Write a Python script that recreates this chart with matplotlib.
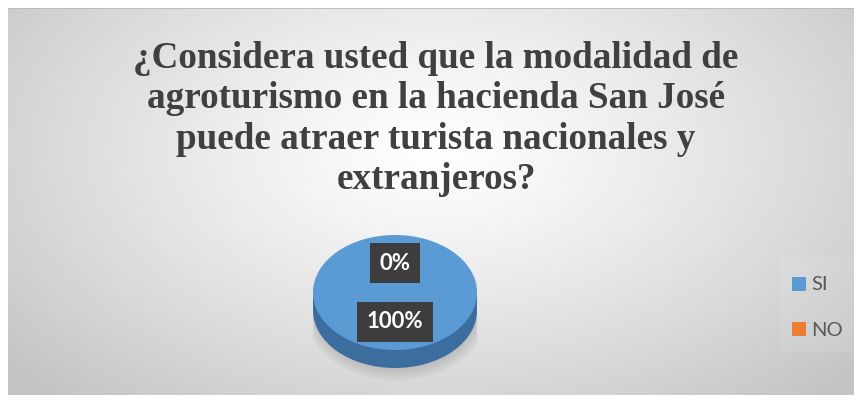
import numpy as np
import matplotlib
matplotlib.use("Agg")
import matplotlib.pyplot as plt
from matplotlib.patches import Rectangle, Ellipse

# ---- data ----
categories = ["SI", "NO"]
values = [100, 0]
colors = ["#5B9BD5", "#ED7D31"]
title = ("¿Considera usted que la modalidad de\n"
         "agroturismo en la hacienda San José\n"
         "puede atraer turista nacionales y\n"
         "extranjeros?")

W, H = 858, 401
fig = plt.figure(figsize=(W / 100, H / 100), dpi=100)
fig.patch.set_facecolor("white")

def px_axes(x0, y0, x1, y1, **kw):
    """axes from pixel box (top-left origin)"""
    return fig.add_axes([x0 / W, 1 - y1 / H, (x1 - x0) / W, (y1 - y0) / H], **kw)

# ---- background panel with radial gradient ----
bg = px_axes(8, 8, 854, 395)
bg.set_axis_off()
ny, nx = 200, 400
yy, xx = np.mgrid[0:ny, 0:nx]
px = xx / nx * 846 + 8
py = yy / ny * 387 + 8
r = np.sqrt(((px - 435) / 560) ** 2 + ((py - 150) / 330) ** 2)
v = 1.0 - 0.23 * np.clip(r, 0, 1) ** 1.2
img = np.dstack([v, v, v])
bg.imshow(img, aspect="auto", extent=[0, 1, 0, 1], interpolation="bilinear")
bg.set_xlim(0, 1); bg.set_ylim(0, 1)
bg.plot([0, 1], [1, 1], color="#b8b8b8", lw=1.2, transform=bg.transAxes)
# faint legend area
bg.add_patch(Rectangle(((779 - 8) / 846, 1 - (352 - 8) / 387), 74 / 846, 95 / 387,
                       transform=bg.transAxes, facecolor="white", alpha=0.08,
                       edgecolor="none"))

# ---- title ----
fig.text(436 / W, 1 - 41 / H, title, ha="center", va="top",
         fontsize=26.7, fontweight="bold", family="Liberation Serif",
         color="#404040", linespacing=1.2)

# ---- pie (tilted, with depth) ----
cx0, cx1 = 313, 477          # top face horizontal extent
cy, ry = 292.5, 57.5         # top face centre / half height
depth = 18
ax = px_axes(cx0, cy - ry - 5, cx1, cy + ry + depth + 12)
ax.set_axis_off()
ry_units_top = (ry + 5) / ry
ry_units_bot = (ry + depth + 12) / ry
d = depth / ry

# soft shadow below the pie
for k in range(6):
    ax.add_patch(Ellipse((0.02, -d - 0.02), 2.0 + 0.05 * k, 2.0 + 0.08 * k,
                         facecolor="black", alpha=0.025, edgecolor="none", zorder=0.1))

# side (depth) - drawn with pie wedges shifted down and a connecting band
side_col = "#3C6D9F"
ax.pie(values, colors=[side_col, side_col], startangle=90, counterclock=False,
       center=(0, -d), radius=1, wedgeprops=dict(linewidth=0))
ax.add_patch(Rectangle((-1, -d), 2, d, facecolor=side_col, edgecolor="none", zorder=0.5))
wedges, texts, autotexts = ax.pie(
    values, colors=colors, startangle=90, counterclock=False,
    autopct="%1.0f%%", pctdistance=0.51, radius=1,
    wedgeprops=dict(linewidth=0),
    textprops=dict(color="white", fontsize=16, fontweight="bold", family="Lato"))
for t in autotexts:
    t.set_bbox(dict(facecolor="#3d3d3d", edgecolor="none", boxstyle="square,pad=0.42"))
    t.set_zorder(5)
ax.set_aspect("auto")
ax.set_xlim(-1, 1)
ax.set_ylim(-ry_units_bot, ry_units_top)

# ---- legend ----
leg_x = 792
for i, lab in enumerate(categories):
    y = 284 + i * 45
    fig.patches.append(Rectangle((leg_x / W, 1 - (y + 7) / H), 14 / W, 14 / H,
                                 facecolor=colors[i], edgecolor="none",
                                 transform=fig.transFigure, figure=fig))
    fig.text((leg_x + 19) / W, 1 - (y + 1) / H, lab, ha="left", va="center",
             fontsize=14.5, color="#595959", family="Lato")

fig.savefig("out.png", dpi=100)
